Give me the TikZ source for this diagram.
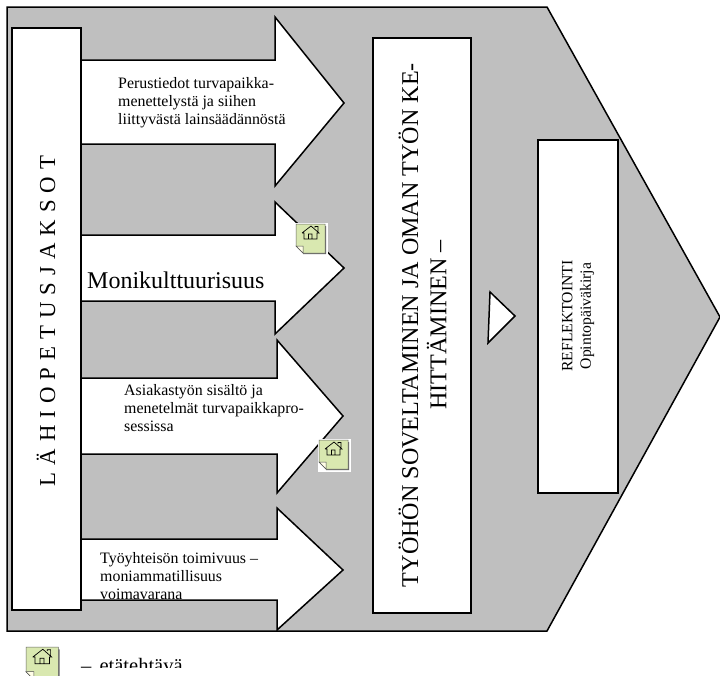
\documentclass[tikz,border=0pt]{standalone}
\usepackage{fontspec}
\setmainfont{Liberation Serif}
\newfontfamily\spaced[LetterSpace=30.7]{Liberation Serif}
\definecolor{notegreen}{HTML}{D9E8B0}
\tikzset{
  line/.style={draw=black,line width=1.5pt,line join=miter},
  whitebox/.style={line,fill=white},
  smalltext/.style={inner sep=0pt,anchor=north west,align=left,font=\fontsize{15.9}{18.3}\selectfont},
  uptext/.style={inner sep=0pt,rotate=90,align=center},
  homenote/.pic={
    \fill[white] (-1,-1) rectangle (32,32);
    \fill[black!60] (7,22) -- (2,2) -- (30,2) -- (30,30) -- (7,30) -- cycle;
    \draw[black!60,line width=.5pt,fill=notegreen] (0,0) -- (29,0) -- (29,29) -- (7,29) -- (0,22) -- cycle;
    \draw[black!70,line width=.5pt,fill=white!90!yellow] (0,22) -- (7,22) -- (7,29) -- cycle;
    \draw[black,line width=.7pt] (6,9) -- (15,2) -- (23,9) -- (21,9) -- (21,15) -- (8,15) -- (8,9) -- (6,9)
      (19,3.5) -- (19,2.5) -- (22,2.5) -- (22,8) (12.5,15) -- (12.5,10) -- (16,10) -- (16,15);
  }
}
\begin{document}
\begin{tikzpicture}[x=1pt,y=-1pt]
  \useasboundingbox (0,0) rectangle (720,675);
  \draw[line,fill=black!25] (7,7) -- (547,7) -- (720,317) -- (547,631) -- (7,631) -- cycle;
  % arrows, from the box to the right
  \foreach \st/\sb/\nx/\ht/\tx/\ty/\hb in {60/144/275/17/344/103/186,
      235/301/275/202/344/268/334,
      378/454/277/340/343/416/493,
      539/600/277/508/343/570/630}
    \draw[whitebox] (70,\st) -- (\nx,\st) -- (\nx,\ht) -- (\tx,\ty) -- (\nx,\hb) -- (\nx,\sb) -- (70,\sb) -- cycle;
  \node[whitebox,minimum width=69pt,minimum height=582pt,inner sep=0pt] (lahi) at (46.5,319) {};
  \node[uptext,font=\fontsize{22.8}{27}\selectfont\spaced] (lahitext) at (46,321) {LÄHIOPETUSJAKSOT};
  \node[smalltext] (perus) at (118,77) {Perustiedot turvapaikka-\\menettelystä ja siihen\\liittyvästä lainsäädännöstä};
  \node[inner sep=0pt,anchor=base west,font=\fontsize{24}{28}\selectfont] (moni) at (87,288) {Monikulttuurisuus};
  \node[smalltext] (asiakas) at (124,384) {Asiakastyön sisältö ja\\menetelmät turvapaikkapro-\\sessissa};
  \begin{scope}
    \clip (80,530) rectangle (300,599);
    \node[smalltext] (tyoyht) at (100,552) {Työyhteisön toimivuus –\\moniammatillisuus\\voimavarana};
  \end{scope}
  \node[whitebox,minimum width=98pt,minimum height=575pt,inner sep=0pt] (tyohon) at (422,325.5) {};
  \node[uptext,font=\fontsize{24.1}{28.3}\selectfont] (tyohontext) at (422.5,325) {TYÖHÖN SOVELTAMINEN JA OMAN TYÖN KE-\\HITTÄMINEN –};
  \draw[whitebox] (490,292) -- (515,316) -- (488,343) -- cycle;
  \node[whitebox,minimum width=80pt,minimum height=353pt,inner sep=0pt] (refl) at (578,316.5) {};
  \node[uptext,font=\fontsize{15.7}{18.5}\selectfont] (refltext) at (578,316) {REFLEKTOINTI\\Opintopäiväkirja};
  \pic (note1) at (296,224) {homenote};
  \pic (note2) at (319,440) {homenote};
  \begin{scope}
    \clip (0,640) rectangle (720,675);
    \pic[scale=1.12] (note3) at (26,647) {homenote};
  \end{scope}
  \begin{scope}
    \clip (70,640) rectangle (300,667.5);
    \node[inner sep=0pt,anchor=base west,font=\fontsize{20.5}{24}\selectfont] (legend) at (81,672.5) {– \kern3pt etätehtävä};
  \end{scope}
\end{tikzpicture}
\end{document}
